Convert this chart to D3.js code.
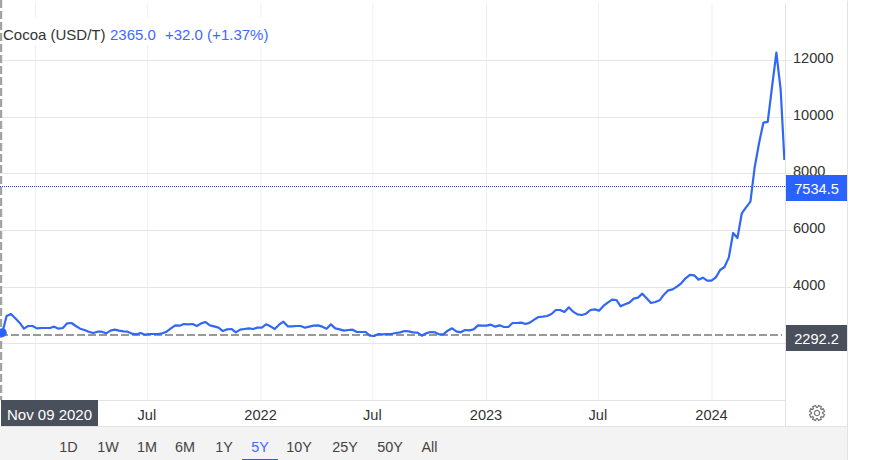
<!DOCTYPE html>
<html>
<head>
<meta charset="utf-8">
<script src="https://cdnjs.cloudflare.com/ajax/libs/d3/7.8.5/d3.min.js"></script>
<style>
html,body{margin:0;padding:0;background:#fff;overflow:hidden}
svg{display:block}
text{font-family:"Liberation Sans",Arial,sans-serif}
</style>
</head>
<body>
<svg id="c" width="869" height="460"></svg>
<script>
const seriesName = "Cocoa (USD/T)";
const legendPrice = "2365.0";
const legendChange = "+32.0 (+1.37%)";
const startDate = "2020-11-09";
const lastDate = "2024-04-28";
const prices = [
2379,2968,3039,2886,2733,2520,2615,2615,2532,2544,2544,2544,2591,2520,2544,2709,2721,2615,2520,2473,
2414,2367,2414,2414,2356,2450,2485,2450,2426,2414,2344,2320,2367,2308,2332,2332,2332,2356,2414,2532,
2638,2627,2685,2674,2685,2615,2709,2756,2638,2603,2556,2438,2497,2509,2391,2485,2509,2532,2509,2556,
2556,2674,2603,2509,2662,2768,2603,2603,2615,2615,2556,2591,2627,2638,2591,2520,2674,2532,2497,2450,
2473,2485,2403,2403,2403,2273,2261,2332,2320,2332,2332,2367,2391,2438,2426,2391,2379,2273,2356,2403,
2391,2320,2320,2450,2532,2426,2391,2473,2462,2497,2638,2627,2627,2662,2591,2638,2579,2579,2721,2721,
2733,2685,2733,2839,2933,2945,2968,3039,3180,3180,3110,3275,3121,3027,3003,3050,3180,3204,3157,3322,
3440,3546,3534,3310,3381,3440,3581,3616,3758,3593,3428,3463,3522,3722,3876,3911,4005,4123,4300,4418,
4406,4253,4323,4217,4217,4335,4594,4700,5030,5902,5725,6597,6809,7009,8234,9082,9800,9825,11062,12274,
10955,8480
];
const yTicks = [2000,4000,6000,8000,10000,12000];
const yLabels = ["","4000","6000","8000","10000","12000"];
const xTickDates = ["2021-01-01","2021-07-01","2022-01-01","2022-07-01","2023-01-01","2023-07-01","2024-01-01"];
const xLabels = ["","Jul","2022","Jul","2023","Jul","2024"];
const lastPrice = 7534.5;
const prevClose = 2292.2;
const crossLabel = "Nov 09 2020";
const ranges = ["1D","1W","1M","6M","1Y","5Y","10Y","25Y","50Y","All"];
const rangeCentres = [68.5,108,147,185,224,260,299,345,390,429.5];
const activeRange = "5Y";

const parse = d3.utcParse("%Y-%m-%d");
const start = parse(startDate);
const dates = prices.map((_, i) => i === prices.length - 1 ? parse(lastDate) : d3.utcDay.offset(start, 7 * i));
const data = prices.map((v, i) => ({date: dates[i], value: v}));

const xScale = d3.scaleUtc().domain([start, parse("2024-01-01")]).range([2.3, 711.5]);
const yScale = d3.scaleLinear().domain([0, 12000]).range([400, 60.4]);
const yAxisScale = yScale.copy().rangeRound([400, 60]);

const svg = d3.select("#c");
const plotRight = 785, panelRight = 847, plotTop = 3, plotBottom = 400, axisBottom = 426;
const fs = 14.6;

// Footer
svg.append("rect").attr("x",0).attr("y",axisBottom).attr("width",panelRight).attr("height",460-axisBottom).attr("fill","#f3f3f3");

// Vertical grid
const xAxis = d3.axisBottom(xScale).tickValues(xTickDates.map(parse)).tickSize(plotBottom-plotTop).tickFormat("");
const gx = svg.append("g").attr("transform",`translate(0,${plotTop})`).call(xAxis);
gx.select(".domain").remove();
gx.selectAll("line").attr("stroke","#ebf0f7");

// Horizontal grid + labels
const yAxis = d3.axisRight(yAxisScale).tickValues(yTicks).tickSize(plotRight+6).tickPadding(2)
  .tickFormat((d,i)=>yLabels[i]);
const gy = svg.append("g").call(yAxis);
gy.select(".domain").remove();
gy.selectAll("line").attr("stroke","#e6e6e6");
gy.selectAll("text").attr("font-size",fs).attr("fill","#333").attr("dy","0.2em").attr("x",793);

// Frame lines
const frame = [[0,plotBottom,plotRight,plotBottom],[0,axisBottom,panelRight,axisBottom],[plotRight,plotTop,plotRight,axisBottom],[panelRight,0,panelRight,460]];
svg.append("g").selectAll("line").data(frame).join("line")
  .attr("x1",d=>d[0]+.5).attr("y1",d=>d[1]+.5).attr("x2",d=>d[2]+.5).attr("y2",d=>d[3]+.5)
  .attr("stroke","#e3e3e3").attr("stroke-width",1);

// X labels
svg.append("g").selectAll("text").data(xTickDates.map((d,i)=>({d:parse(d),t:xLabels[i]}))).join("text")
  .attr("x",d=>xScale(d.d)).attr("y",419.5).attr("text-anchor","middle").attr("font-size",fs).attr("fill","#333").text(d=>d.t);

// Legend backing
svg.append("rect").attr("x",2).attr("y",17).attr("width",268).attr("height",28).attr("fill","#fff");

// Reference lines
svg.append("line").attr("x1",0).attr("x2",plotRight).attr("y1",186.5).attr("y2",186.5)
  .attr("stroke","#2b4bc8").attr("stroke-dasharray","1,1").attr("stroke-width",1);
svg.append("line").attr("x1",0).attr("x2",782).attr("y1",335).attr("y2",335)
  .attr("stroke","#999").attr("stroke-dasharray","8,3").attr("stroke-width",2);

// Series
svg.append("clipPath").attr("id","plot").append("rect").attr("x",0).attr("y",0).attr("width",plotRight).attr("height",plotBottom);
const lineGen = d3.line().x(d=>xScale(d.date)).y(d=>yScale(d.value));
svg.append("path").datum(data).attr("d",lineGen).attr("fill","none").attr("stroke","#3067f5")
  .attr("stroke-width",2.2).attr("stroke-linejoin","round").attr("clip-path","url(#plot)");

// Crosshair
svg.append("line").attr("x1",1).attr("x2",1).attr("y1",0).attr("y2",plotBottom)
  .attr("stroke","#a3a3a3").attr("stroke-width",2.4).attr("stroke-dasharray","8,3");
svg.append("circle").attr("cx",xScale(data[0].date)).attr("cy",yScale(data[0].value)).attr("r",4.5).attr("fill","#2962ff");

// Legend text
svg.append("text").attr("x",3).attr("y",39.5).attr("font-size",15).attr("fill","#333").text(seriesName);
svg.append("text").attr("x",110).attr("y",39.5).attr("font-size",15).attr("fill","#4169ff").text(legendPrice);
svg.append("text").attr("x",165).attr("y",39.5).attr("font-size",15).attr("fill","#4169ff").text(legendChange);

// Price tags
const tags = [
  {v:lastPrice, box:[786,175,61,26], fill:"#2962ff"},
  {v:prevClose, box:[786,325,61,26], fill:"#4a4f5c"}
];
const tg = svg.append("g").selectAll("g").data(tags).join("g");
tg.append("rect").attr("x",d=>d.box[0]).attr("y",d=>d.box[1]).attr("width",d=>d.box[2]).attr("height",d=>d.box[3]).attr("fill",d=>d.fill);
tg.append("text").attr("x",d=>d.box[0]+d.box[2]/2).attr("y",d=>d.box[1]+19).attr("text-anchor","middle")
  .attr("font-size",fs).attr("fill","#fff").text(d=>d3.format(".1f")(d.v));

// Crosshair date label
svg.append("rect").attr("x",1).attr("y",plotBottom).attr("width",97).attr("height",axisBottom-plotBottom).attr("fill","#4a4f5c");
svg.append("text").attr("x",49.5).attr("y",419.5).attr("text-anchor","middle").attr("font-size",15).attr("fill","#fff").text(crossLabel);

// Range buttons
svg.append("g").selectAll("text").data(ranges).join("text")
  .attr("x",(d,i)=>rangeCentres[i]).attr("y",452).attr("text-anchor","middle").attr("font-size",14.4)
  .attr("fill",d=>d===activeRange?"#4169ff":"#444").text(d=>d);
const ai = ranges.indexOf(activeRange);
svg.append("rect").attr("x",rangeCentres[ai]-18).attr("y",459).attr("width",36).attr("height",1).attr("fill","#2f5fe0");

// Settings gear
const pts = [];
d3.range(8).forEach(i=>{
  const a = i*Math.PI/4 + Math.PI/8, w = 0.2, w2 = 0.3;
  [[5.6,a-w2],[7.6,a-w],[7.6,a+w],[5.6,a+w2]].forEach(([r,t])=>pts.push([r*Math.cos(t),r*Math.sin(t)]));
});
const gear = svg.append("g").attr("transform","translate(817,413)").attr("fill","none").attr("stroke","#7a7a7a").attr("stroke-width",1.3);
gear.append("path").attr("d",d3.line()(pts)+"Z");
gear.append("circle").attr("r",2.6);
</script>
</body>
</html>
